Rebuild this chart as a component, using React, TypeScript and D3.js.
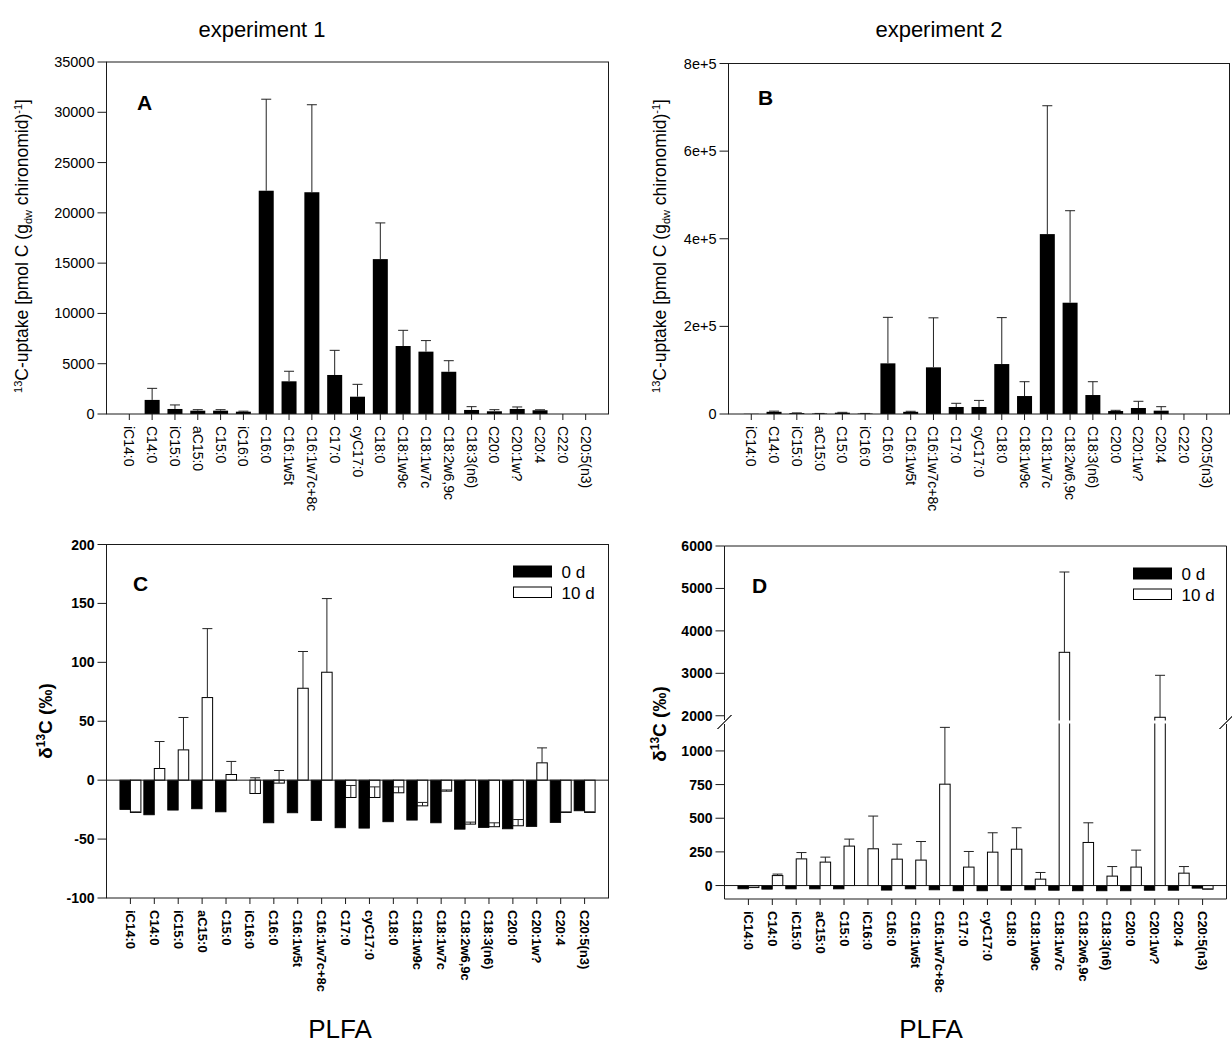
import React from 'react';
import * as d3 from 'd3';

const FONT = 'Arial, "Liberation Sans", Helvetica, sans-serif';

// ---------- data ----------
const catsAB = ['iC14:0','C14:0','iC15:0','aC15:0','C15:0','iC16:0','C16:0','C16:1w5t','C16:1w7c+8c','C17:0','cyC17:0','C18:0','C18:1w9c','C18:1w7c','C18:2w6,9c','C18:3(n6)','C20:0','C20:1w?','C20:4','C22:0','C20:5(n3)'];
const uptakeExp1 = [0,1400,500,330,330,230,22200,3250,22050,3880,1720,15400,6760,6200,4200,400,270,500,370,0,0];
const uptakeExp1SD = [0,1150,400,100,100,50,9100,1000,8700,2450,1230,3600,1560,1100,1100,330,160,200,50,0,0];
const uptakeExp2 = [500,5000,2000,1000,3000,1000,115600,5000,106500,16000,16000,114000,41000,410600,254000,43300,6800,13700,7600,0,0];
const uptakeExp2SD = [0,1500,500,300,800,300,105000,1200,113000,8400,15000,106000,32700,293000,210000,30400,1600,15300,9100,0,0];
const ticksA = [0,5000,10000,15000,20000,25000,30000,35000];
const ticksB = [0,200000,400000,600000,800000];
const ticksBLabels = ['0','2e+5','4e+5','6e+5','8e+5'];

const catsCD = ['iC14:0','C14:0','iC15:0','aC15:0','C15:0','iC16:0','C16:0','C16:1w5t','C16:1w7c+8c','C17:0','cyC17:0','C18:0','C18:1w9c','C18:1w7c','C18:2w6,9c','C18:3(n6)','C20:0','C20:1w?','C20:4','C20:5(n3)'];
const d13CExp1Day0 = [-24.9,-29.4,-25.4,-24.3,-26.9,null,-36.2,-27.7,-34.2,-40.4,-40.7,-35.3,-33.9,-36.2,-41.6,-40.2,-41.3,-39.3,-35.9,-26];
const d13CExp1Day10 = [-27.4,9.9,25.7,70.1,4.8,-11.3,-2.5,78,91.6,-14.7,-14.7,-10.7,-21.8,-9.3,-37.3,-39.5,-38.7,14.7,-27.4,-27.4];
const d13CExp1Day10SD = [0.5,22.9,27.5,58.5,11.1,13.3,10.7,31.2,62.5,10.2,9,5,2.9,1,1.7,3.3,5.3,12.7,0.5,0.6];
const d13CExp2Day0 = [-24.5,-27,-25,-25,-25,null,-34,-25,-32,-39,-39,-35,-32,-35,-39,-39,-39,-35,-35,-19.5];
const d13CExp2Day10 = [-15,74,198,174,293,273,196,189,753,137,248,270,47.5,3495,320,70,137,1964,92,-27];
const d13CExp2Day10SD = [3,11,47,37,52,243,111,138,422,116,144,159,49.5,1892,146,71,126,989,49,2];
const ticksC = [-100,-50,0,50,100,150,200];
const ticksDLower = [0,250,500,750,1000];
const ticksDUpper = [2000,3000,4000,5000,6000];
const legendLabels = ['0 d','10 d'];

const AX = '#1a1a1a';

function XLabels({ x, cats, bottom, bold, size }: any) {
  return (
    <g>
      {cats.map((c: string) => {
        const cx = x(c);
        return (
          <g key={c}>
            <line x1={cx} x2={cx} y1={bottom} y2={bottom + 6} stroke={AX} strokeWidth={1} />
            <text
              transform={`translate(${cx},${bottom + 12}) rotate(90)`}
              textAnchor="start"
              dominantBaseline="central"
              fontSize={size}
              fontWeight={bold ? 'bold' : 'normal'}
            >{c}</text>
          </g>
        );
      })}
    </g>
  );
}

function UptakeLabel({ x, y }: any) {
  return (
    <text transform={`translate(${x},${y}) rotate(-90)`} textAnchor="middle" fontSize={17.5}>
      <tspan fontSize={11} dy={-6}>13</tspan>
      <tspan dy={6}>C-uptake [pmol C (g</tspan>
      <tspan fontSize={11} dy={4}>dw</tspan>
      <tspan dy={-4}> chironomid)</tspan>
      <tspan fontSize={11} dy={-6}>-1</tspan>
      <tspan dy={6}>]</tspan>
    </text>
  );
}

function DeltaLabel({ x, y }: any) {
  return (
    <text transform={`translate(${x},${y}) rotate(-90)`} textAnchor="middle" fontSize={19} fontWeight="bold">
      <tspan>δ</tspan>
      <tspan fontSize={12} dy={-7}>13</tspan>
      <tspan dy={7}>C (‰)</tspan>
    </text>
  );
}

function UptakePanel({ left, right, top, bottom, values, sds, ticks, tickLabels, max, letter, letterX, letterY, labelX }: any) {
  const x = d3.scalePoint<string>().domain(catsAB).range([left, right]).padding(1);
  const y = d3.scaleLinear().domain([0, max]).range([bottom, top]);
  const bw = 15;
  return (
    <g>
      {values.map((v: number, i: number) => {
        const cx = x(catsAB[i]) as number;
        if (!v) return null;
        return <rect key={'b' + i} x={cx - bw / 2} y={y(v)} width={bw} height={y(0) - y(v)} fill="#000" />;
      })}
      {values.map((v: number, i: number) => {
        const cx = x(catsAB[i]) as number;
        const sd = sds[i];
        if (!sd) return null;
        return (
          <g key={'e' + i} stroke="#222" strokeWidth={1}>
            <line x1={cx} x2={cx} y1={y(v)} y2={y(v + sd)} />
            <line x1={cx - 5} x2={cx + 5} y1={y(v + sd)} y2={y(v + sd)} />
          </g>
        );
      })}
      <rect x={left} y={top} width={right - left} height={bottom - top} fill="none" stroke={AX} strokeWidth={1} />
      {ticks.map((t: number, i: number) => (
        <g key={'t' + t}>
          <line x1={left - 9} x2={left} y1={y(t)} y2={y(t)} stroke={AX} />
          <text x={left - 12} y={y(t)} textAnchor="end" dominantBaseline="central" fontSize={14.5}>{tickLabels ? tickLabels[i] : String(t)}</text>
        </g>
      ))}
      <XLabels x={x} cats={catsAB} bottom={bottom} bold={false} size={14} />
      <text x={letterX} y={letterY} fontSize={21} fontWeight="bold">{letter}</text>
      <UptakeLabel x={labelX} y={246} />
    </g>
  );
}

function Legend({ x, y }: any) {
  return (
    <g>
      <rect x={x} y={y} width={38} height={11} fill="#000" stroke="#000" />
      <text x={x + 48} y={y + 6} dominantBaseline="central" fontSize={17}>{legendLabels[0]}</text>
      <rect x={x} y={y + 21} width={38} height={10.5} fill="#fff" stroke="#000" />
      <text x={x + 48} y={y + 27} dominantBaseline="central" fontSize={17}>{legendLabels[1]}</text>
    </g>
  );
}

function GroupBars({ x, y, cats, d0, d10, sd10 }: any) {
  const bw = 10.5;
  return (
    <g>
      {cats.map((c: string, i: number) => {
        const t = x(c) as number;
        const v0 = d0[i];
        const v1 = d10[i];
        const sd = sd10[i];
        const end = v1 + sd;
        return (
          <g key={c}>
            {v0 !== null && (
              <rect x={t - bw} y={Math.min(y(v0), y(0))} width={bw} height={Math.abs(y(v0) - y(0))} fill="#000" stroke="#000" strokeWidth={0.8} />
            )}
            <rect x={t} y={Math.min(y(v1), y(0))} width={bw} height={Math.abs(y(v1) - y(0))} fill="#fff" stroke="#000" strokeWidth={1} />
            {sd > 0 && (
              <g stroke="#222" strokeWidth={1}>
                <line x1={t + bw / 2} x2={t + bw / 2} y1={y(v1)} y2={y(end)} />
                <line x1={t + bw / 2 - 5} x2={t + bw / 2 + 5} y1={y(end)} y2={y(end)} />
              </g>
            )}
          </g>
        );
      })}
    </g>
  );
}

function PanelC() {
  const left = 106.5, right = 608.5, top = 544.5, bottom = 898;
  const x = d3.scalePoint<string>().domain(catsCD).range([left, right]).padding(1);
  const y = d3.scaleLinear().domain([-100, 200]).range([bottom, top]);
  return (
    <g>
      <GroupBars x={x} y={y} cats={catsCD} d0={d13CExp1Day0} d10={d13CExp1Day10} sd10={d13CExp1Day10SD} />
      <line x1={left} x2={right} y1={y(0)} y2={y(0)} stroke={AX} />
      <rect x={left} y={top} width={right - left} height={bottom - top} fill="none" stroke={AX} />
      {ticksC.map((t) => (
        <g key={t}>
          <line x1={left - 9} x2={left} y1={y(t)} y2={y(t)} stroke={AX} />
          <text x={left - 12} y={y(t)} textAnchor="end" dominantBaseline="central" fontSize={14} fontWeight="bold">{t}</text>
        </g>
      ))}
      <XLabels x={x} cats={catsCD} bottom={bottom} bold={true} size={13} />
      <text x={133} y={591} fontSize={21} fontWeight="bold">C</text>
      <Legend x={513.5} y={566} />
      <DeltaLabel x={52} y={721} />
    </g>
  );
}

function PanelD() {
  const left = 724.5, right = 1226.5, top = 546, bottom = 899;
  const gapLo = 724, gapHi = 720;
  const x = d3.scalePoint<string>().domain(catsCD).range([left, right]).padding(1);
  const lower = d3.scaleLinear().domain([-100, 1200]).range([bottom, gapLo]);
  const upper = d3.scaleLinear().domain([1900, 6000]).range([gapHi, top]);
  const y = (v: number) => (v >= 1900 ? upper(v) : v <= 1200 ? lower(v) : (gapLo + gapHi) / 2);
  const brk = (ax: number) => (
    <g stroke={AX} strokeWidth={1}>
      <line x1={ax - 7} y1={gapLo + 5} x2={ax + 7} y2={gapLo - 9} />
      <line x1={ax - 7} y1={gapHi + 9} x2={ax + 7} y2={gapHi - 5} />
    </g>
  );
  return (
    <g>
      <GroupBars x={x} y={y} cats={catsCD} d0={d13CExp2Day0} d10={d13CExp2Day10} sd10={d13CExp2Day10SD} />
      <rect x={left - 2} y={gapHi + 0.5} width={right - left + 4} height={gapLo - gapHi - 1} fill="#fff" />
      <line x1={left} x2={right} y1={y(0)} y2={y(0)} stroke={AX} />
      <line x1={left} x2={right} y1={top} y2={top} stroke={AX} />
      <line x1={left} x2={right} y1={bottom} y2={bottom} stroke={AX} />
      <line x1={left} x2={left} y1={bottom} y2={gapLo} stroke={AX} />
      <line x1={left} x2={left} y1={gapHi} y2={top} stroke={AX} />
      <line x1={right} x2={right} y1={bottom} y2={gapLo} stroke={AX} />
      <line x1={right} x2={right} y1={gapHi} y2={top} stroke={AX} />
      {brk(left)}
      {brk(right)}
      {ticksDLower.concat(ticksDUpper).map((t) => (
        <g key={t}>
          <line x1={left - 9} x2={left} y1={y(t)} y2={y(t)} stroke={AX} />
          <text x={left - 12} y={y(t)} textAnchor="end" dominantBaseline="central" fontSize={14} fontWeight="bold">{t}</text>
        </g>
      ))}
      <XLabels x={x} cats={catsCD} bottom={bottom} bold={true} size={13} />
      <text x={752} y={593} fontSize={21} fontWeight="bold">D</text>
      <Legend x={1133.5} y={568} />
      <DeltaLabel x={666} y={724} />
    </g>
  );
}

export default function App() {
  return (
    <svg width={1232} height={1048} style={{ position: 'absolute', left: 0, top: 0, background: '#fff' }} fontFamily={FONT}>
      <rect x={0} y={0} width={1232} height={1048} fill="#fff" />
      <text x={262} y={37} textAnchor="middle" fontSize={22}>experiment 1</text>
      <text x={939} y={37} textAnchor="middle" fontSize={22}>experiment 2</text>
      <UptakePanel left={106.5} right={608.5} top={62} bottom={414} values={uptakeExp1} sds={uptakeExp1SD}
        ticks={ticksA} max={35000} letter="A" letterX={137} letterY={110} labelX={28} />
      <UptakePanel left={728.5} right={1229.5} top={63.5} bottom={414} values={uptakeExp2} sds={uptakeExp2SD}
        ticks={ticksB} tickLabels={ticksBLabels} max={800000} letter="B" letterX={758} letterY={105} labelX={666} />
      <PanelC />
      <PanelD />
      <text x={340} y={1038} textAnchor="middle" fontSize={26}>PLFA</text>
      <text x={931} y={1038} textAnchor="middle" fontSize={26}>PLFA</text>
    </svg>
  );
}
